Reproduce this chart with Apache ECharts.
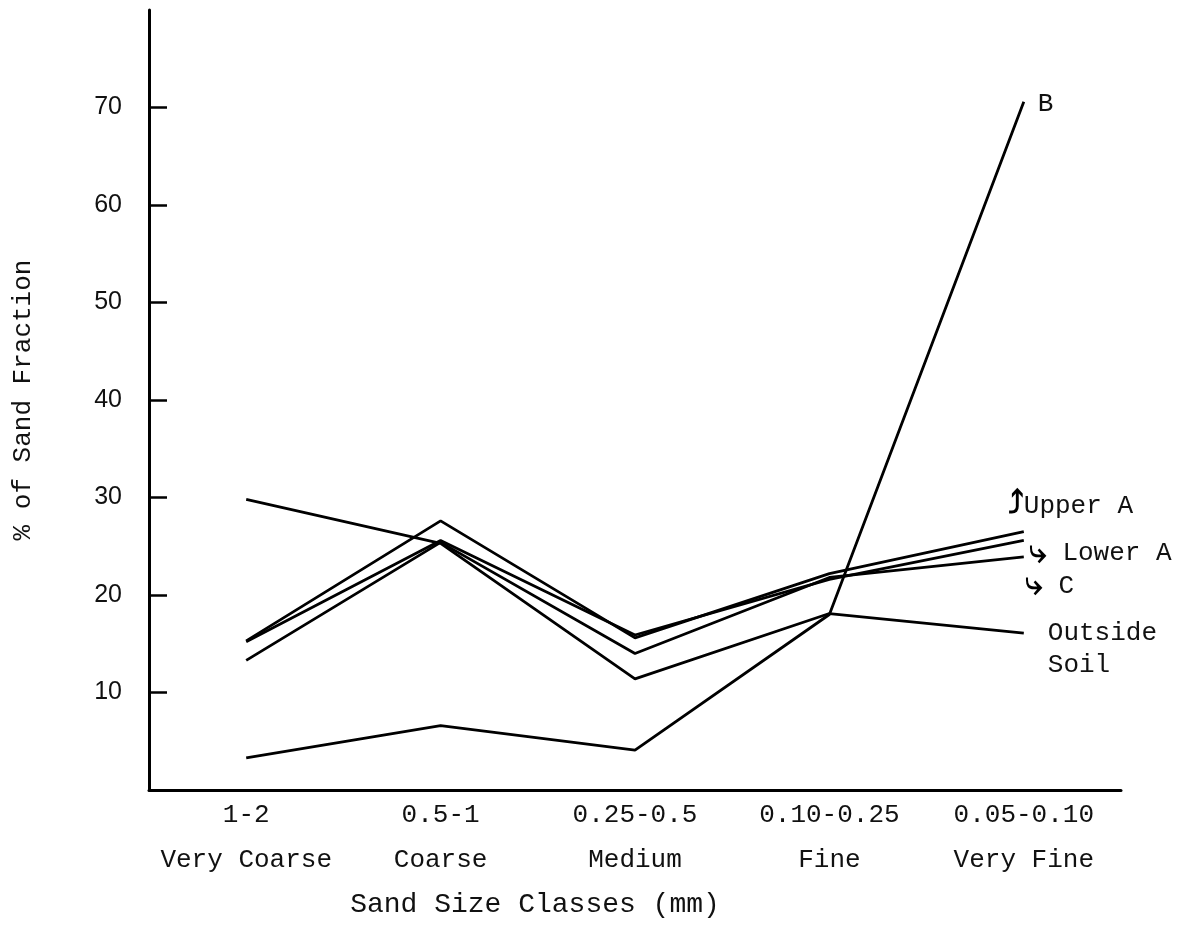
<!DOCTYPE html>
<html>
<head>
<meta charset="utf-8">
<script src="https://cdn.jsdelivr.net/npm/echarts@6/dist/echarts.min.js"></script>
<style>
  html, body { margin: 0; padding: 0; background: #fff; }
  #chart { width: 1179px; height: 946px; }
</style>
</head>
<body>
<div id="chart"></div>
<script>
const sizeClasses = ['1-2', '0.5-1', '0.25-0.5', '0.10-0.25', '0.05-0.10'];
const classNames = ['Very Coarse', 'Coarse', 'Medium', 'Fine', 'Very Fine'];
const yTicks = [10, 20, 30, 40, 50, 60, 70];

const upperA  = [15.3, 27.6, 15.6, 22.2, 26.5];
const lowerA  = [15.2, 25.6, 15.9, 21.6, 25.6];
const cHor    = [13.3, 25.4, 14.0, 21.8, 23.9];
const outside = [29.8, 25.3, 11.4, 18.1, 16.1];
const bHor    = [3.3, 6.6, 4.1, 18.0, 70.6];

const FONT = 'Liberation Mono';
const INK = '#111';

function mkSeries(name, data, label) {
  return {
    name: name,
    type: 'line',
    data: data,
    symbol: 'none',
    lineStyle: { color: '#000', width: 2.8 },
    itemStyle: { color: '#000' },
    emphasis: { disabled: true },
    endLabel: Object.assign({
      show: true,
      position: 'right',
      distance: 0,
      fontFamily: FONT,
      fontSize: 26,
      color: INK,
      align: 'left',
      verticalAlign: 'middle'
    }, label)
  };
}

const arrowStyle = { fontFamily: 'DejaVu Sans', fontSize: 32, fontWeight: 'bold', color: '#000' };
const txtStyle = { fontFamily: FONT, fontSize: 26, color: INK };

const chart = echarts.init(document.getElementById('chart'));
chart.setOption({
  animation: false,
  backgroundColor: '#fff',
  grid: { left: 149, right: 58, top: 10, bottom: 156, containLabel: false, outerBoundsMode: 'none' },
  xAxis: {
    type: 'category',
    data: sizeClasses,
    boundaryGap: true,
    axisLine: { lineStyle: { color: '#000', width: 3 } },
    axisTick: { inside: true, length: 18, alignWithLabel: true, lineStyle: { color: '#000', width: 2.5 } },
    axisLabel: {
      interval: 0,
      margin: 3,
      fontFamily: FONT,
      fontSize: 26,
      color: INK,
      lineHeight: 45,
      formatter: (v, i) => v + '\n' + classNames[i]
    },
    splitLine: { show: false }
  },
  yAxis: {
    type: 'value',
    min: 0,
    max: 80,
    interval: 10,
    name: '% of Sand Fraction',
    nameLocation: 'middle',
    nameGap: 113,
    nameTextStyle: { fontFamily: FONT, fontSize: 26, color: INK },
    axisLine: { show: true, lineStyle: { color: '#000', width: 3 } },
    axisTick: { show: true, inside: true, length: 18, customValues: yTicks, lineStyle: { color: '#000', width: 2.5 } },
    axisLabel: {
      margin: 27,
      fontFamily: 'Liberation Sans',
      fontSize: 25,
      color: INK,
      customValues: yTicks
    },
    splitLine: { show: false }
  },
  graphic: [{
    type: 'text',
    x: 535,
    y: 905,
    style: {
      text: 'Sand Size Classes (mm)',
      font: '28px "Liberation Mono"',
      fill: INK,
      textAlign: 'center',
      textVerticalAlign: 'middle'
    }
  }],
  series: [
    mkSeries('Upper A', upperA, {
      formatter: '{a|⤴}{t|Upper A}',
      offset: [-16, -26],
      rich: { a: arrowStyle, t: txtStyle }
    }),
    mkSeries('Lower A', lowerA, {
      formatter: '{a|⤷} {t|Lower A}',
      offset: [5, 13],
      rich: { a: arrowStyle, t: txtStyle }
    }),
    mkSeries('C', cHor, {
      formatter: '{a|⤷} {t|C}',
      offset: [1, 29],
      rich: { a: arrowStyle, t: txtStyle }
    }),
    mkSeries('Outside Soil', outside, {
      formatter: 'Outside\nSoil',
      lineHeight: 32,
      offset: [24, 16]
    }),
    mkSeries('B', bHor, {
      formatter: 'B',
      offset: [14, 2]
    })
  ]
});
</script>
</body>
</html>
